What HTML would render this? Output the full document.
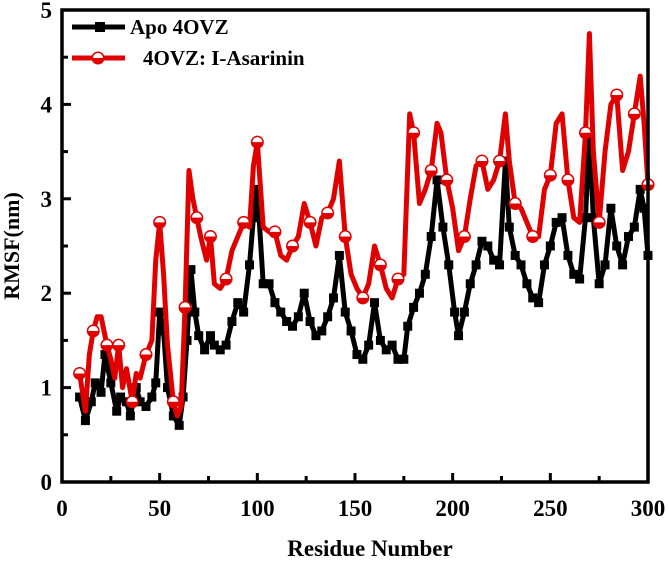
<!DOCTYPE html>
<html><head><meta charset="utf-8"><style>
body{margin:0;background:#fff;overflow:hidden}
svg text{font-family:"Liberation Serif",serif;font-weight:bold}
</style></head><body>
<svg id="c" width="669" height="556" viewBox="0 0 669 556"></svg>
<script>
const apoX=[9,12,15,17,20,22,25,28,30,33,35,38,40,43,46,48,50,52,54,57,60,62,64,66,68,70,73,76,78,81,84,87,90,93,96,98,100,103,106,109,112,115,118,121,124,127,130,133,136,139,142,145,148,151,154,157,160,163,166,169,172,175,177,180,183,186,189,192,195,198,201,203,206,209,212,215,218,221,224,227,229,232,235,238,241,244,247,250,253,256,259,262,265,268,270,272,275,278,281,284,287,290,293,296,298,300];
const apoY=[0.9,0.65,0.85,1.05,0.95,1.35,1.05,0.75,0.9,0.85,0.7,1.0,0.85,0.8,0.9,1.05,1.8,1.6,1.0,0.7,0.6,0.9,1.5,2.25,1.8,1.55,1.4,1.55,1.45,1.4,1.45,1.7,1.9,1.8,2.3,2.8,3.1,2.1,2.1,1.9,1.8,1.7,1.65,1.75,2.0,1.7,1.55,1.6,1.75,1.95,2.4,1.8,1.6,1.35,1.3,1.45,1.9,1.5,1.4,1.45,1.3,1.3,1.65,1.85,2.0,2.2,2.6,3.2,2.7,2.3,1.8,1.55,1.8,2.1,2.3,2.55,2.5,2.35,2.3,3.4,2.7,2.4,2.3,2.1,1.95,1.9,2.3,2.5,2.75,2.8,2.4,2.2,2.15,2.8,3.7,2.8,2.1,2.3,2.9,2.5,2.3,2.6,2.7,3.1,2.9,2.4];
const ligX=[9,12,14,16,18,20,23,25,27,29,31,33,36,38,40,43,46,48,50,52,54,57,59,61,63,65,67,69,71,74,76,78,81,84,87,90,93,96,98,100,103,106,109,112,115,118,121,124,127,130,133,136,139,142,145,148,151,154,157,160,163,166,169,172,175,178,180,183,186,189,192,194,197,200,203,206,209,212,215,218,221,224,227,229,232,235,238,241,244,247,250,253,256,259,262,265,268,270,272,275,278,281,284,287,290,293,296,298,300];
const ligY=[1.15,0.75,1.35,1.6,1.75,1.75,1.45,1.3,1.1,1.45,1.0,1.2,0.85,1.15,1.1,1.35,1.5,2.35,2.75,2.2,1.45,0.85,0.7,0.8,1.85,3.3,3.0,2.8,2.6,2.35,2.6,2.1,2.05,2.15,2.45,2.6,2.75,2.7,3.35,3.6,2.7,2.65,2.65,2.4,2.35,2.5,2.6,2.95,2.75,2.5,2.8,2.85,3.0,3.4,2.6,2.2,2.05,1.95,2.1,2.5,2.3,2.05,1.95,2.15,2.2,3.9,3.7,2.95,3.1,3.3,3.8,3.7,3.2,2.9,2.45,2.6,3.0,3.35,3.4,3.1,3.2,3.4,3.9,3.4,2.95,2.9,2.75,2.6,2.6,3.1,3.25,3.8,3.9,3.2,2.8,2.75,3.7,4.75,3.5,2.75,3.5,4.0,4.1,3.3,3.5,3.9,4.3,3.8,3.15];
const xTicks=[0,50,100,150,200,250,300];
const yTicks=[0,1,2,3,4,5];
const L=62,R=648,T=10,B=482;
const sx=v=>L+(v/300)*(R-L), sy=v=>B-(v/5)*(B-T);
const svg=document.getElementById('c');const NS='http://www.w3.org/2000/svg';
function mk(t,a,p){const e=document.createElementNS(NS,t);for(const k in a)e.setAttribute(k,a[k]);(p||svg).appendChild(e);return e;}
let g=mk('g',{});


mk('polyline',{points:apoX.map((x,i)=>sx(x)+','+sy(apoY[i])).join(' '),fill:'none',stroke:'#000','stroke-width':5,'stroke-linejoin':'round'},g);
apoX.forEach((x,i)=>{const r=mk('rect',{x:sx(x)-4.5,y:sy(apoY[i])-4.5,width:9,height:9,fill:'#000'},g);

});
let g2=mk('g',{});


mk('polyline',{points:ligX.map((x,i)=>sx(x)+','+sy(ligY[i])).join(' '),fill:'none',stroke:'#e00000','stroke-width':5,'stroke-linejoin':'round'},g2);
function circ(cx,cy,p){mk('circle',{cx,cy,r:6.5,fill:'#e00000'},p);mk('path',{d:`M${cx-5},${cy} A5,5 0 0 1 ${cx+5},${cy} Z`,fill:'#fff'},p);}
ligX.forEach((x,i)=>{if(i%3===0){circ(sx(x),sy(ligY[i]),g2);}});
const f=mk('rect',{x:L,y:T,width:R-L,height:B-T,fill:'none',stroke:'#000','stroke-width':3.5});


xTicks.forEach(v=>{mk('line',{x1:sx(v),y1:B,x2:sx(v),y2:B-9,stroke:'#000','stroke-width':3});
const t=mk('text',{x:sx(v),y:B+34,'font-size':23,'text-anchor':'middle'});t.textContent=v;

});
for(let v=25;v<300;v+=50)mk('line',{x1:sx(v),y1:B,x2:sx(v),y2:B-6,stroke:'#000','stroke-width':3});
yTicks.forEach(v=>{mk('line',{x1:L,y1:sy(v),x2:L+9,y2:sy(v),stroke:'#000','stroke-width':3});
const t=mk('text',{x:L-10,y:sy(v)+8,'font-size':23,'text-anchor':'end'});t.textContent=v;

});
for(let v=0.5;v<5;v+=1)mk('line',{x1:L,y1:sy(v),x2:L+6,y2:sy(v),stroke:'#000','stroke-width':3});
let t=mk('text',{x:(L+R)/2+15,y:556,'font-size':23,'text-anchor':'middle'});t.textContent='Residue Number';


t=mk('text',{x:0,y:0,'font-size':22,'text-anchor':'middle',transform:`translate(19,${(T+B)/2}) rotate(-90)`});t.textContent='RMSF(nm)';


let lg=mk('g',{});


mk('line',{x1:72,y1:27,x2:125,y2:27,stroke:'#000','stroke-width':5},lg);
mk('rect',{x:95,y:22,width:10,height:10,fill:'#000'},lg);
t=mk('text',{x:130,y:34,'font-size':21},lg);t.textContent='Apo 4OVZ';


mk('line',{x1:72,y1:58,x2:125,y2:58,stroke:'#e00000','stroke-width':5},lg);
circ(98,58,lg);
t=mk('text',{x:143,y:65,'font-size':21},lg);t.textContent='4OVZ: I-Asarinin';


</script>
</body></html>
